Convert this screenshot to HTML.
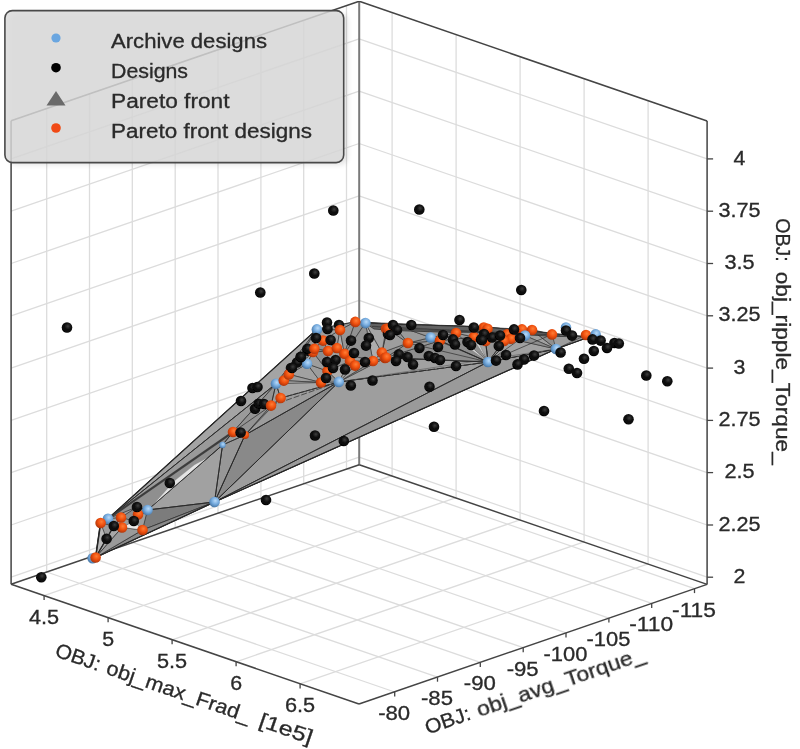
<!DOCTYPE html>
<html><head><meta charset="utf-8"><title>Pareto front</title>
<style>
html,body{margin:0;padding:0;background:#fff;}
body{width:800px;height:749px;overflow:hidden;font-family:"Liberation Sans",sans-serif;}
svg{display:block;}
text{font-family:"Liberation Sans",sans-serif;}
</style></head><body>
<svg width="800" height="749" viewBox="0 0 800 749">
<defs>
<radialGradient id="gk" cx="0.58" cy="0.38" r="0.7"><stop offset="0" stop-color="#3e3e3e"/><stop offset="0.4" stop-color="#121212"/><stop offset="1" stop-color="#000"/></radialGradient>
<radialGradient id="go" cx="0.58" cy="0.38" r="0.72"><stop offset="0" stop-color="#ff7d36"/><stop offset="0.45" stop-color="#ef500f"/><stop offset="1" stop-color="#9a2c03"/></radialGradient>
<radialGradient id="gb" cx="0.58" cy="0.38" r="0.72"><stop offset="0" stop-color="#b9daf8"/><stop offset="0.45" stop-color="#77acdf"/><stop offset="1" stop-color="#3a6794"/></radialGradient>
<filter id="blur" x="-10%" y="-10%" width="120%" height="120%"><feGaussianBlur stdDeviation="2.5"/></filter>
<filter id="soft" x="0" y="0" width="100%" height="100%"><feGaussianBlur stdDeviation="0.7"/></filter>
</defs>
<rect width="800" height="749" fill="#fff"/>
<g filter="url(#soft)">
<g id="grid">
<line x1="44.1" y1="595.6" x2="392.1" y2="475.6" stroke="#dcdcdc" stroke-width="1.3" />
<line x1="108.1" y1="617.7" x2="456.1" y2="497.7" stroke="#dcdcdc" stroke-width="1.3" />
<line x1="172.1" y1="639.8" x2="520.1" y2="519.8" stroke="#dcdcdc" stroke-width="1.3" />
<line x1="236.1" y1="661.8" x2="584.1" y2="541.8" stroke="#dcdcdc" stroke-width="1.3" />
<line x1="300.1" y1="683.9" x2="648.1" y2="563.9" stroke="#dcdcdc" stroke-width="1.3" />
<line x1="46.7" y1="572.0" x2="394.7" y2="692.0" stroke="#dcdcdc" stroke-width="1.3" />
<line x1="89.5" y1="557.2" x2="437.5" y2="677.2" stroke="#dcdcdc" stroke-width="1.3" />
<line x1="132.3" y1="542.4" x2="480.3" y2="662.4" stroke="#dcdcdc" stroke-width="1.3" />
<line x1="175.2" y1="527.7" x2="523.2" y2="647.7" stroke="#dcdcdc" stroke-width="1.3" />
<line x1="218.0" y1="512.9" x2="566.0" y2="632.9" stroke="#dcdcdc" stroke-width="1.3" />
<line x1="260.9" y1="498.1" x2="608.9" y2="618.1" stroke="#dcdcdc" stroke-width="1.3" />
<line x1="303.7" y1="483.4" x2="651.7" y2="603.4" stroke="#dcdcdc" stroke-width="1.3" />
<line x1="346.5" y1="468.6" x2="694.5" y2="588.6" stroke="#dcdcdc" stroke-width="1.3" />
<line x1="46.7" y1="572.0" x2="46.7" y2="108.6" stroke="#dcdcdc" stroke-width="1.3" />
<line x1="89.5" y1="557.2" x2="89.5" y2="93.8" stroke="#dcdcdc" stroke-width="1.3" />
<line x1="132.3" y1="542.4" x2="132.3" y2="79.0" stroke="#dcdcdc" stroke-width="1.3" />
<line x1="175.2" y1="527.7" x2="175.2" y2="64.3" stroke="#dcdcdc" stroke-width="1.3" />
<line x1="218.0" y1="512.9" x2="218.0" y2="49.5" stroke="#dcdcdc" stroke-width="1.3" />
<line x1="260.9" y1="498.1" x2="260.9" y2="34.7" stroke="#dcdcdc" stroke-width="1.3" />
<line x1="303.7" y1="483.4" x2="303.7" y2="20.0" stroke="#dcdcdc" stroke-width="1.3" />
<line x1="346.5" y1="468.6" x2="346.5" y2="5.2" stroke="#dcdcdc" stroke-width="1.3" />
<line x1="11.1" y1="577.2" x2="359.1" y2="457.2" stroke="#dcdcdc" stroke-width="1.3" />
<line x1="11.1" y1="525.0" x2="359.1" y2="404.9" stroke="#dcdcdc" stroke-width="1.3" />
<line x1="11.1" y1="472.6" x2="359.1" y2="352.6" stroke="#dcdcdc" stroke-width="1.3" />
<line x1="11.1" y1="420.4" x2="359.1" y2="300.4" stroke="#dcdcdc" stroke-width="1.3" />
<line x1="11.1" y1="368.1" x2="359.1" y2="248.1" stroke="#dcdcdc" stroke-width="1.3" />
<line x1="11.1" y1="315.8" x2="359.1" y2="195.8" stroke="#dcdcdc" stroke-width="1.3" />
<line x1="11.1" y1="263.5" x2="359.1" y2="143.5" stroke="#dcdcdc" stroke-width="1.3" />
<line x1="11.1" y1="211.2" x2="359.1" y2="91.2" stroke="#dcdcdc" stroke-width="1.3" />
<line x1="11.1" y1="158.9" x2="359.1" y2="38.9" stroke="#dcdcdc" stroke-width="1.3" />
<line x1="392.1" y1="475.6" x2="392.1" y2="12.2" stroke="#dcdcdc" stroke-width="1.3" />
<line x1="456.1" y1="497.7" x2="456.1" y2="34.3" stroke="#dcdcdc" stroke-width="1.3" />
<line x1="520.1" y1="519.8" x2="520.1" y2="56.4" stroke="#dcdcdc" stroke-width="1.3" />
<line x1="584.1" y1="541.8" x2="584.1" y2="78.4" stroke="#dcdcdc" stroke-width="1.3" />
<line x1="648.1" y1="563.9" x2="648.1" y2="100.5" stroke="#dcdcdc" stroke-width="1.3" />
<line x1="359.1" y1="457.2" x2="707.1" y2="577.2" stroke="#dcdcdc" stroke-width="1.3" />
<line x1="359.1" y1="404.9" x2="707.1" y2="525.0" stroke="#dcdcdc" stroke-width="1.3" />
<line x1="359.1" y1="352.6" x2="707.1" y2="472.6" stroke="#dcdcdc" stroke-width="1.3" />
<line x1="359.1" y1="300.4" x2="707.1" y2="420.4" stroke="#dcdcdc" stroke-width="1.3" />
<line x1="359.1" y1="248.1" x2="707.1" y2="368.1" stroke="#dcdcdc" stroke-width="1.3" />
<line x1="359.1" y1="195.8" x2="707.1" y2="315.8" stroke="#dcdcdc" stroke-width="1.3" />
<line x1="359.1" y1="143.5" x2="707.1" y2="263.5" stroke="#dcdcdc" stroke-width="1.3" />
<line x1="359.1" y1="91.2" x2="707.1" y2="211.2" stroke="#dcdcdc" stroke-width="1.3" />
<line x1="359.1" y1="38.9" x2="707.1" y2="158.9" stroke="#dcdcdc" stroke-width="1.3" />
<line x1="359.2" y1="464.7" x2="359.2" y2="1.3" stroke="#7a7a7a" stroke-width="2" />
<line x1="11.1" y1="584.2" x2="11.1" y2="120.8" stroke="#444" stroke-width="1.5" />
<line x1="11.1" y1="120.8" x2="359.2" y2="1.3" stroke="#444" stroke-width="1.5" />
<line x1="359.2" y1="1.3" x2="707.1" y2="121.0" stroke="#444" stroke-width="1.5" />
<line x1="707.1" y1="121.0" x2="707.1" y2="584.4" stroke="#444" stroke-width="1.5" />
<line x1="11.1" y1="584.2" x2="359.0" y2="704.0" stroke="#444" stroke-width="1.5" />
<line x1="359.0" y1="704.0" x2="707.1" y2="584.4" stroke="#444" stroke-width="1.5" />
<line x1="11.1" y1="584.2" x2="359.2" y2="464.7" stroke="#444" stroke-width="1.5" />
<line x1="359.2" y1="464.7" x2="707.1" y2="584.4" stroke="#444" stroke-width="1.5" />
<line x1="44.1" y1="595.6" x2="44.1" y2="600.1" stroke="#444" stroke-width="1.3" />
<line x1="108.1" y1="617.7" x2="108.1" y2="622.2" stroke="#444" stroke-width="1.3" />
<line x1="172.1" y1="639.8" x2="172.1" y2="644.3" stroke="#444" stroke-width="1.3" />
<line x1="236.1" y1="661.8" x2="236.1" y2="666.3" stroke="#444" stroke-width="1.3" />
<line x1="300.1" y1="683.9" x2="300.1" y2="688.4" stroke="#444" stroke-width="1.3" />
<line x1="394.7" y1="692.0" x2="394.7" y2="696.5" stroke="#444" stroke-width="1.3" />
<line x1="437.5" y1="677.2" x2="437.5" y2="681.7" stroke="#444" stroke-width="1.3" />
<line x1="480.3" y1="662.4" x2="480.3" y2="666.9" stroke="#444" stroke-width="1.3" />
<line x1="523.2" y1="647.7" x2="523.2" y2="652.2" stroke="#444" stroke-width="1.3" />
<line x1="566.0" y1="632.9" x2="566.0" y2="637.4" stroke="#444" stroke-width="1.3" />
<line x1="608.9" y1="618.1" x2="608.9" y2="622.6" stroke="#444" stroke-width="1.3" />
<line x1="651.7" y1="603.4" x2="651.7" y2="607.9" stroke="#444" stroke-width="1.3" />
<line x1="694.5" y1="588.6" x2="694.5" y2="593.1" stroke="#444" stroke-width="1.3" />
<line x1="707.1" y1="577.2" x2="713.1" y2="577.2" stroke="#444" stroke-width="1.3" />
<line x1="707.1" y1="525.0" x2="713.1" y2="525.0" stroke="#444" stroke-width="1.3" />
<line x1="707.1" y1="472.6" x2="713.1" y2="472.6" stroke="#444" stroke-width="1.3" />
<line x1="707.1" y1="420.4" x2="713.1" y2="420.4" stroke="#444" stroke-width="1.3" />
<line x1="707.1" y1="368.1" x2="713.1" y2="368.1" stroke="#444" stroke-width="1.3" />
<line x1="707.1" y1="315.8" x2="713.1" y2="315.8" stroke="#444" stroke-width="1.3" />
<line x1="707.1" y1="263.5" x2="713.1" y2="263.5" stroke="#444" stroke-width="1.3" />
<line x1="707.1" y1="211.2" x2="713.1" y2="211.2" stroke="#444" stroke-width="1.3" />
<line x1="707.1" y1="158.9" x2="713.1" y2="158.9" stroke="#444" stroke-width="1.3" />
</g>
<g id="surface">
<polygon points="95.6,557.5 100.6,523.0 108.0,518.8 316.9,329.4 355.3,321.9 365.4,323.1 393.0,324.2 485.0,327.0 552.0,333.5 589.0,337.0 556.0,349.0 214.5,502.0" fill="#9d9d9d" stroke="#262626" stroke-width="1.2" stroke-opacity="1" stroke-linejoin="round" opacity="1"/>
<polygon points="214.5,502.0 338.8,381.9 488.0,362.0" fill="#9e9e9e" stroke="#262626" stroke-width="0.8" stroke-opacity="0.85" stroke-linejoin="round" opacity="1"/>
<polygon points="214.5,502.0 488.0,362.0 556.0,349.0" fill="#9a9a9a" stroke="#262626" stroke-width="0.8" stroke-opacity="0.85" stroke-linejoin="round" opacity="1"/>
<polygon points="338.8,381.9 488.0,362.0 556.0,349.0" fill="#9c9c9c" stroke="#262626" stroke-width="0.8" stroke-opacity="0.85" stroke-linejoin="round" opacity="1"/>
<polygon points="214.5,502.0 245.0,435.0 338.8,381.9" fill="#898989" stroke="#262626" stroke-width="0.8" stroke-opacity="0.85" stroke-linejoin="round" opacity="1"/>
<polygon points="214.5,502.0 222.5,445.0 245.0,435.0" fill="#979797" stroke="#262626" stroke-width="0.8" stroke-opacity="0.85" stroke-linejoin="round" opacity="1"/>
<polygon points="147.5,510.0 222.5,445.0 214.5,502.0" fill="#a1a1a1" stroke="#262626" stroke-width="0.8" stroke-opacity="0.85" stroke-linejoin="round" opacity="1"/>
<polygon points="147.5,510.0 214.5,502.0 142.5,530.0" fill="#7c7c7c" stroke="#262626" stroke-width="0.8" stroke-opacity="0.85" stroke-linejoin="round" opacity="1"/>
<polygon points="95.6,557.5 142.5,530.0 214.5,502.0" fill="#8a8a8a" stroke="#262626" stroke-width="0.8" stroke-opacity="0.85" stroke-linejoin="round" opacity="1"/>
<polygon points="108.0,518.8 316.9,329.4 276.0,383.8" fill="#a4a4a4" stroke="#262626" stroke-width="0.8" stroke-opacity="0.85" stroke-linejoin="round" opacity="1"/>
<polygon points="108.0,518.8 276.0,383.8 233.0,432.0" fill="#9a9a9a" stroke="#262626" stroke-width="0.8" stroke-opacity="0.85" stroke-linejoin="round" opacity="1"/>
<polygon points="108.0,518.8 233.0,432.0 222.5,445.0 147.5,510.0 137.0,507.0" fill="#8f8f8f" stroke="#262626" stroke-width="0.8" stroke-opacity="0.85" stroke-linejoin="round" opacity="1"/>
<polygon points="151.3,506.7 174.8,480.6 194.5,464.8 208.0,457.6" fill="#e4e4e4" stroke="#777" stroke-width="0.3" stroke-opacity="0.85" stroke-linejoin="round" opacity="1"/>
<polygon points="244.0,428.0 258.0,411.0 256.0,418.0" fill="#dcdcdc" stroke="#555" stroke-width="0.5" stroke-opacity="0.85" stroke-linejoin="round" opacity="1"/>
<polygon points="95.6,557.5 100.6,523.0 106.6,538.8" fill="#b9b9b9" stroke="#262626" stroke-width="0.8" stroke-opacity="0.85" stroke-linejoin="round" opacity="1"/>
<polygon points="95.6,557.5 106.6,538.8 113.8,526.0 122.0,527.5" fill="#a8a8a8" stroke="#262626" stroke-width="0.8" stroke-opacity="0.85" stroke-linejoin="round" opacity="1"/>
<polygon points="95.6,557.5 122.0,527.5 142.5,530.0" fill="#9a9a9a" stroke="#262626" stroke-width="0.8" stroke-opacity="0.85" stroke-linejoin="round" opacity="1"/>
<polygon points="122.0,527.5 133.8,521.0 142.5,530.0" fill="#e9e9e9" stroke="#444" stroke-width="0.6" stroke-opacity="0.85" stroke-linejoin="round" opacity="1"/>
<polygon points="100.6,523.0 108.0,518.8 121.0,517.5 113.8,526.0" fill="#a0a0a0" stroke="#262626" stroke-width="0.8" stroke-opacity="0.85" stroke-linejoin="round" opacity="1"/>
<polygon points="121.0,517.5 137.0,507.0 147.5,510.0 133.8,521.0" fill="#8c8c8c" stroke="#262626" stroke-width="0.8" stroke-opacity="0.85" stroke-linejoin="round" opacity="1"/>
<polygon points="245.0,435.0 271.0,405.6 280.6,398.0 338.8,381.9" fill="#9c9c9c" stroke="#262626" stroke-width="0.8" stroke-opacity="0.85" stroke-linejoin="round" opacity="1"/>
<polygon points="276.0,383.8 280.6,398.0 338.8,381.9 306.9,363.8" fill="#a6a6a6" stroke="#262626" stroke-width="0.8" stroke-opacity="0.85" stroke-linejoin="round" opacity="1"/>
<polygon points="233.0,432.0 276.0,383.8 271.0,405.6 245.0,435.0" fill="#939393" stroke="#262626" stroke-width="0.8" stroke-opacity="0.85" stroke-linejoin="round" opacity="1"/>
<line x1="233.0" y1="432.0" x2="271.0" y2="405.6" stroke="#262626" stroke-width="0.8" opacity="0.85"/>
<line x1="245.0" y1="435.0" x2="280.6" y2="398.0" stroke="#262626" stroke-width="0.8" opacity="0.85"/>
<line x1="276.0" y1="383.8" x2="280.6" y2="398.0" stroke="#262626" stroke-width="0.8" opacity="0.85"/>
<line x1="276.0" y1="383.8" x2="271.0" y2="405.6" stroke="#262626" stroke-width="0.8" opacity="0.85"/>
<line x1="276.0" y1="383.8" x2="283.8" y2="380.6" stroke="#262626" stroke-width="0.8" opacity="0.85"/>
<line x1="276.0" y1="383.8" x2="306.9" y2="363.8" stroke="#262626" stroke-width="0.8" opacity="0.85"/>
<line x1="280.6" y1="398.0" x2="338.8" y2="381.9" stroke="#262626" stroke-width="0.8" opacity="0.85" stroke-dasharray="5 1.5"/>
<line x1="271.0" y1="405.6" x2="338.8" y2="381.9" stroke="#262626" stroke-width="0.8" opacity="0.85" stroke-dasharray="6 2"/>
<line x1="283.8" y1="380.6" x2="338.8" y2="381.9" stroke="#262626" stroke-width="0.8" opacity="0.85"/>
<line x1="222.5" y1="445.0" x2="233.0" y2="432.0" stroke="#262626" stroke-width="0.8" opacity="0.85"/>
<line x1="222.5" y1="445.0" x2="245.0" y2="435.0" stroke="#262626" stroke-width="0.8" opacity="0.85"/>
<line x1="233.0" y1="432.0" x2="245.0" y2="435.0" stroke="#262626" stroke-width="0.8" opacity="0.85"/>
<polygon points="338.8,381.9 385.0,358.0 488.0,362.0" fill="#a1a1a1" stroke="#262626" stroke-width="0.7" stroke-opacity="0.8" stroke-linejoin="round" opacity="1"/>
<polygon points="385.0,358.0 386.0,357.5 488.0,362.0" fill="#8e8e8e" stroke="#262626" stroke-width="0.7" stroke-opacity="0.8" stroke-linejoin="round" opacity="1"/>
<polygon points="386.0,357.5 440.0,340.6 488.0,362.0" fill="#8e8e8e" stroke="#262626" stroke-width="0.7" stroke-opacity="0.8" stroke-linejoin="round" opacity="1"/>
<polygon points="316.9,329.4 288.8,374.4 276.0,383.8" fill="#9a9a9a" stroke="#262626" stroke-width="0.7" stroke-opacity="0.8" stroke-linejoin="round" opacity="1"/>
<polygon points="340.0,330.0 316.9,329.4 355.3,321.9" fill="#969696" stroke="#262626" stroke-width="0.7" stroke-opacity="0.8" stroke-linejoin="round" opacity="1"/>
<polygon points="385.0,358.0 381.9,352.5 386.0,357.5" fill="#969696" stroke="#262626" stroke-width="0.7" stroke-opacity="0.8" stroke-linejoin="round" opacity="1"/>
<polygon points="440.0,340.6 473.8,337.0 488.0,362.0" fill="#8e8e8e" stroke="#262626" stroke-width="0.7" stroke-opacity="0.8" stroke-linejoin="round" opacity="1"/>
<polygon points="407.9,343.0 440.0,340.6 386.0,357.5" fill="#969696" stroke="#262626" stroke-width="0.7" stroke-opacity="0.8" stroke-linejoin="round" opacity="1"/>
<polygon points="381.9,352.5 407.9,343.0 386.0,357.5" fill="#929292" stroke="#262626" stroke-width="0.7" stroke-opacity="0.8" stroke-linejoin="round" opacity="1"/>
<polygon points="407.9,343.0 381.9,352.5 387.5,328.8" fill="#9d9d9d" stroke="#262626" stroke-width="0.7" stroke-opacity="0.8" stroke-linejoin="round" opacity="1"/>
<polygon points="288.8,374.4 283.8,380.6 276.0,383.8" fill="#adadad" stroke="#262626" stroke-width="0.7" stroke-opacity="0.8" stroke-linejoin="round" opacity="1"/>
<polygon points="340.0,330.0 323.0,340.6 316.9,329.4" fill="#9d9d9d" stroke="#262626" stroke-width="0.7" stroke-opacity="0.8" stroke-linejoin="round" opacity="1"/>
<polygon points="323.0,340.6 340.0,330.0 336.9,348.0" fill="#9d9d9d" stroke="#262626" stroke-width="0.7" stroke-opacity="0.8" stroke-linejoin="round" opacity="1"/>
<polygon points="323.0,340.6 314.4,348.8 316.9,329.4" fill="#8e8e8e" stroke="#262626" stroke-width="0.7" stroke-opacity="0.8" stroke-linejoin="round" opacity="1"/>
<polygon points="321.0,382.5 288.8,374.4 307.0,363.8" fill="#a1a1a1" stroke="#262626" stroke-width="0.7" stroke-opacity="0.8" stroke-linejoin="round" opacity="1"/>
<polygon points="327.5,371.0 321.0,382.5 307.0,363.8" fill="#9d9d9d" stroke="#262626" stroke-width="0.7" stroke-opacity="0.8" stroke-linejoin="round" opacity="1"/>
<polygon points="321.0,382.5 283.8,380.6 288.8,374.4" fill="#9d9d9d" stroke="#262626" stroke-width="0.7" stroke-opacity="0.8" stroke-linejoin="round" opacity="1"/>
<polygon points="321.0,382.5 327.5,371.0 338.8,381.9" fill="#8e8e8e" stroke="#262626" stroke-width="0.7" stroke-opacity="0.8" stroke-linejoin="round" opacity="1"/>
<polygon points="283.8,380.6 321.0,382.5 276.0,383.8" fill="#9d9d9d" stroke="#262626" stroke-width="0.7" stroke-opacity="0.8" stroke-linejoin="round" opacity="1"/>
<polygon points="328.0,351.0 323.0,340.6 336.9,348.0" fill="#9d9d9d" stroke="#262626" stroke-width="0.7" stroke-opacity="0.8" stroke-linejoin="round" opacity="1"/>
<polygon points="323.0,340.6 328.0,351.0 314.4,348.8" fill="#8e8e8e" stroke="#262626" stroke-width="0.7" stroke-opacity="0.8" stroke-linejoin="round" opacity="1"/>
<polygon points="373.0,361.0 385.0,358.0 338.8,381.9" fill="#8e8e8e" stroke="#262626" stroke-width="0.7" stroke-opacity="0.8" stroke-linejoin="round" opacity="1"/>
<polygon points="355.0,365.6 373.0,361.0 338.8,381.9" fill="#a1a1a1" stroke="#262626" stroke-width="0.7" stroke-opacity="0.8" stroke-linejoin="round" opacity="1"/>
<polygon points="373.0,361.0 381.9,352.5 385.0,358.0" fill="#9a9a9a" stroke="#262626" stroke-width="0.7" stroke-opacity="0.8" stroke-linejoin="round" opacity="1"/>
<polygon points="381.9,352.5 373.0,361.0 365.4,323.1" fill="#adadad" stroke="#262626" stroke-width="0.7" stroke-opacity="0.8" stroke-linejoin="round" opacity="1"/>
<polygon points="327.5,371.0 350.0,361.0 338.8,381.9" fill="#adadad" stroke="#262626" stroke-width="0.7" stroke-opacity="0.8" stroke-linejoin="round" opacity="1"/>
<polygon points="350.0,361.0 355.0,365.6 338.8,381.9" fill="#a5a5a5" stroke="#262626" stroke-width="0.7" stroke-opacity="0.8" stroke-linejoin="round" opacity="1"/>
<polygon points="350.0,361.0 373.0,361.0 355.0,365.6" fill="#9a9a9a" stroke="#262626" stroke-width="0.7" stroke-opacity="0.8" stroke-linejoin="round" opacity="1"/>
<polygon points="381.9,352.5 386.0,328.8 387.5,328.8" fill="#8e8e8e" stroke="#262626" stroke-width="0.7" stroke-opacity="0.8" stroke-linejoin="round" opacity="1"/>
<polygon points="386.0,328.8 381.9,352.5 365.4,323.1" fill="#a5a5a5" stroke="#262626" stroke-width="0.7" stroke-opacity="0.8" stroke-linejoin="round" opacity="1"/>
<polygon points="456.0,333.0 473.8,337.0 440.0,340.6" fill="#969696" stroke="#262626" stroke-width="0.7" stroke-opacity="0.8" stroke-linejoin="round" opacity="1"/>
<polygon points="485.6,341.0 504.0,341.0 488.0,362.0" fill="#969696" stroke="#262626" stroke-width="0.7" stroke-opacity="0.8" stroke-linejoin="round" opacity="1"/>
<polygon points="473.8,337.0 485.6,341.0 488.0,362.0" fill="#a5a5a5" stroke="#262626" stroke-width="0.7" stroke-opacity="0.8" stroke-linejoin="round" opacity="1"/>
<polygon points="393.0,324.2 407.9,343.0 387.5,328.8" fill="#929292" stroke="#262626" stroke-width="0.7" stroke-opacity="0.8" stroke-linejoin="round" opacity="1"/>
<polygon points="456.0,333.0 393.0,324.2 485.0,327.0" fill="#9a9a9a" stroke="#262626" stroke-width="0.7" stroke-opacity="0.8" stroke-linejoin="round" opacity="1"/>
<polygon points="485.0,327.0 393.0,324.2 355.3,321.9" fill="#8e8e8e" stroke="#262626" stroke-width="0.7" stroke-opacity="0.8" stroke-linejoin="round" opacity="1"/>
<polygon points="393.0,324.2 365.4,323.1 355.3,321.9" fill="#a5a5a5" stroke="#262626" stroke-width="0.7" stroke-opacity="0.8" stroke-linejoin="round" opacity="1"/>
<polygon points="386.0,328.8 393.0,324.2 387.5,328.8" fill="#a1a1a1" stroke="#262626" stroke-width="0.7" stroke-opacity="0.8" stroke-linejoin="round" opacity="1"/>
<polygon points="393.0,324.2 386.0,328.8 365.4,323.1" fill="#9a9a9a" stroke="#262626" stroke-width="0.7" stroke-opacity="0.8" stroke-linejoin="round" opacity="1"/>
<polygon points="328.0,351.0 313.0,352.0 314.4,348.8" fill="#8e8e8e" stroke="#262626" stroke-width="0.7" stroke-opacity="0.8" stroke-linejoin="round" opacity="1"/>
<polygon points="288.8,374.4 313.0,352.0 307.0,363.8" fill="#adadad" stroke="#262626" stroke-width="0.7" stroke-opacity="0.8" stroke-linejoin="round" opacity="1"/>
<polygon points="313.0,352.0 327.5,371.0 307.0,363.8" fill="#9d9d9d" stroke="#262626" stroke-width="0.7" stroke-opacity="0.8" stroke-linejoin="round" opacity="1"/>
<polygon points="313.0,352.0 328.0,351.0 327.5,371.0" fill="#8e8e8e" stroke="#262626" stroke-width="0.7" stroke-opacity="0.8" stroke-linejoin="round" opacity="1"/>
<polygon points="313.0,352.0 288.8,374.4 316.9,329.4" fill="#9a9a9a" stroke="#262626" stroke-width="0.7" stroke-opacity="0.8" stroke-linejoin="round" opacity="1"/>
<polygon points="314.4,348.8 313.0,352.0 316.9,329.4" fill="#969696" stroke="#262626" stroke-width="0.7" stroke-opacity="0.8" stroke-linejoin="round" opacity="1"/>
<polygon points="556.0,349.0 525.0,335.6 532.0,330.0" fill="#a1a1a1" stroke="#262626" stroke-width="0.7" stroke-opacity="0.8" stroke-linejoin="round" opacity="1"/>
<polygon points="552.0,334.4 556.0,349.0 532.0,330.0" fill="#8e8e8e" stroke="#262626" stroke-width="0.7" stroke-opacity="0.8" stroke-linejoin="round" opacity="1"/>
<polygon points="552.0,333.5 552.0,334.4 532.0,330.0" fill="#929292" stroke="#262626" stroke-width="0.7" stroke-opacity="0.8" stroke-linejoin="round" opacity="1"/>
<polygon points="586.0,335.0 589.0,337.0 556.0,349.0" fill="#969696" stroke="#262626" stroke-width="0.7" stroke-opacity="0.8" stroke-linejoin="round" opacity="1"/>
<polygon points="344.4,353.8 350.0,361.0 327.5,371.0" fill="#9a9a9a" stroke="#262626" stroke-width="0.7" stroke-opacity="0.8" stroke-linejoin="round" opacity="1"/>
<polygon points="344.4,353.8 328.0,351.0 336.9,348.0" fill="#adadad" stroke="#262626" stroke-width="0.7" stroke-opacity="0.8" stroke-linejoin="round" opacity="1"/>
<polygon points="328.0,351.0 344.4,353.8 327.5,371.0" fill="#a1a1a1" stroke="#262626" stroke-width="0.7" stroke-opacity="0.8" stroke-linejoin="round" opacity="1"/>
<polygon points="340.0,330.0 344.4,353.8 336.9,348.0" fill="#adadad" stroke="#262626" stroke-width="0.7" stroke-opacity="0.8" stroke-linejoin="round" opacity="1"/>
<polygon points="344.4,353.8 340.0,330.0 355.3,321.9" fill="#969696" stroke="#262626" stroke-width="0.7" stroke-opacity="0.8" stroke-linejoin="round" opacity="1"/>
<polygon points="365.4,323.1 344.4,353.8 355.3,321.9" fill="#929292" stroke="#262626" stroke-width="0.7" stroke-opacity="0.8" stroke-linejoin="round" opacity="1"/>
<polygon points="373.0,361.0 344.4,353.8 365.4,323.1" fill="#929292" stroke="#262626" stroke-width="0.7" stroke-opacity="0.8" stroke-linejoin="round" opacity="1"/>
<polygon points="350.0,361.0 344.4,353.8 373.0,361.0" fill="#9d9d9d" stroke="#262626" stroke-width="0.7" stroke-opacity="0.8" stroke-linejoin="round" opacity="1"/>
<polygon points="483.8,327.5 456.0,333.0 485.0,327.0" fill="#969696" stroke="#262626" stroke-width="0.7" stroke-opacity="0.8" stroke-linejoin="round" opacity="1"/>
<polygon points="456.0,333.0 483.8,327.5 473.8,337.0" fill="#9d9d9d" stroke="#262626" stroke-width="0.7" stroke-opacity="0.8" stroke-linejoin="round" opacity="1"/>
<polygon points="483.8,327.5 485.6,341.0 473.8,337.0" fill="#9d9d9d" stroke="#262626" stroke-width="0.7" stroke-opacity="0.8" stroke-linejoin="round" opacity="1"/>
<polygon points="407.9,343.0 430.6,337.5 440.0,340.6" fill="#8e8e8e" stroke="#262626" stroke-width="0.7" stroke-opacity="0.8" stroke-linejoin="round" opacity="1"/>
<polygon points="393.0,324.2 430.6,337.5 407.9,343.0" fill="#9a9a9a" stroke="#262626" stroke-width="0.7" stroke-opacity="0.8" stroke-linejoin="round" opacity="1"/>
<polygon points="430.6,337.5 456.0,333.0 440.0,340.6" fill="#929292" stroke="#262626" stroke-width="0.7" stroke-opacity="0.8" stroke-linejoin="round" opacity="1"/>
<polygon points="430.6,337.5 393.0,324.2 456.0,333.0" fill="#969696" stroke="#262626" stroke-width="0.7" stroke-opacity="0.8" stroke-linejoin="round" opacity="1"/>
<polygon points="487.5,328.8 507.0,334.4 504.0,341.0" fill="#969696" stroke="#262626" stroke-width="0.7" stroke-opacity="0.8" stroke-linejoin="round" opacity="1"/>
<polygon points="485.6,341.0 487.5,328.8 504.0,341.0" fill="#8e8e8e" stroke="#262626" stroke-width="0.7" stroke-opacity="0.8" stroke-linejoin="round" opacity="1"/>
<polygon points="522.0,329.4 487.5,328.8 485.0,327.0" fill="#a5a5a5" stroke="#262626" stroke-width="0.7" stroke-opacity="0.8" stroke-linejoin="round" opacity="1"/>
<polygon points="507.0,334.4 487.5,328.8 522.0,329.4" fill="#a1a1a1" stroke="#262626" stroke-width="0.7" stroke-opacity="0.8" stroke-linejoin="round" opacity="1"/>
<polygon points="487.5,328.8 483.8,327.5 485.0,327.0" fill="#a5a5a5" stroke="#262626" stroke-width="0.7" stroke-opacity="0.8" stroke-linejoin="round" opacity="1"/>
<polygon points="483.8,327.5 487.5,328.8 485.6,341.0" fill="#8e8e8e" stroke="#262626" stroke-width="0.7" stroke-opacity="0.8" stroke-linejoin="round" opacity="1"/>
<polygon points="511.0,338.8 507.0,334.4 522.0,329.4" fill="#9d9d9d" stroke="#262626" stroke-width="0.7" stroke-opacity="0.8" stroke-linejoin="round" opacity="1"/>
<polygon points="525.0,335.6 511.0,338.8 522.0,329.4" fill="#9d9d9d" stroke="#262626" stroke-width="0.7" stroke-opacity="0.8" stroke-linejoin="round" opacity="1"/>
<polygon points="507.0,334.4 511.0,338.8 504.0,341.0" fill="#a5a5a5" stroke="#262626" stroke-width="0.7" stroke-opacity="0.8" stroke-linejoin="round" opacity="1"/>
<polygon points="504.0,341.0 511.0,338.8 488.0,362.0" fill="#a5a5a5" stroke="#262626" stroke-width="0.7" stroke-opacity="0.8" stroke-linejoin="round" opacity="1"/>
<polygon points="511.0,338.8 556.0,349.0 488.0,362.0" fill="#a1a1a1" stroke="#262626" stroke-width="0.7" stroke-opacity="0.8" stroke-linejoin="round" opacity="1"/>
<polygon points="511.0,338.8 525.0,335.6 556.0,349.0" fill="#8e8e8e" stroke="#262626" stroke-width="0.7" stroke-opacity="0.8" stroke-linejoin="round" opacity="1"/>
<line x1="488.0" y1="362.0" x2="386.0" y2="357.5" stroke="#262626" stroke-width="0.8" opacity="0.8"/>
<line x1="488.0" y1="362.0" x2="407.9" y2="343.0" stroke="#262626" stroke-width="0.8" opacity="0.8"/>
<line x1="488.0" y1="362.0" x2="430.6" y2="337.5" stroke="#262626" stroke-width="0.8" opacity="0.8"/>
<line x1="488.0" y1="362.0" x2="440.0" y2="340.6" stroke="#262626" stroke-width="0.8" opacity="0.8"/>
<line x1="488.0" y1="362.0" x2="456.0" y2="333.0" stroke="#262626" stroke-width="0.8" opacity="0.8"/>
<line x1="488.0" y1="362.0" x2="473.8" y2="337.0" stroke="#262626" stroke-width="0.8" opacity="0.8"/>
<line x1="488.0" y1="362.0" x2="485.6" y2="341.0" stroke="#262626" stroke-width="0.8" opacity="0.8"/>
<line x1="488.0" y1="362.0" x2="504.0" y2="341.0" stroke="#262626" stroke-width="0.8" opacity="0.8"/>
<line x1="488.0" y1="362.0" x2="511.0" y2="338.8" stroke="#262626" stroke-width="0.8" opacity="0.8"/>
<line x1="488.0" y1="362.0" x2="525.0" y2="335.6" stroke="#262626" stroke-width="0.8" opacity="0.8"/>
<line x1="488.0" y1="362.0" x2="552.0" y2="334.4" stroke="#262626" stroke-width="0.8" opacity="0.8"/>
<line x1="488.0" y1="362.0" x2="483.8" y2="327.5" stroke="#262626" stroke-width="0.8" opacity="0.8"/>
<polygon points="488.0,362.0 462.0,343.0 466.0,342.0" fill="#d4d4d4" stroke="#666" stroke-width="0.4" stroke-opacity="0.85" stroke-linejoin="round" opacity="1"/>
<polygon points="488.0,362.0 474.0,340.0 477.0,339.5" fill="#cfcfcf" stroke="#666" stroke-width="0.4" stroke-opacity="0.85" stroke-linejoin="round" opacity="1"/>
<polygon points="488.0,362.0 505.0,352.0 509.0,350.0" fill="#c4c4c4" stroke="#666" stroke-width="0.4" stroke-opacity="0.85" stroke-linejoin="round" opacity="1"/>
<line x1="338.8" y1="381.9" x2="488.0" y2="362.0" stroke="#262626" stroke-width="0.9" opacity="0.85" stroke-dasharray="7 2"/>
<line x1="488.0" y1="362.0" x2="556.0" y2="349.0" stroke="#262626" stroke-width="0.9" opacity="0.85" stroke-dasharray="6 2"/>
<line x1="214.5" y1="502.0" x2="488.0" y2="362.0" stroke="#262626" stroke-width="0.9" opacity="0.9"/>
<line x1="338.8" y1="381.9" x2="556.0" y2="349.0" stroke="#262626" stroke-width="0.7" opacity="0.5"/>
<line x1="214.5" y1="502.0" x2="338.8" y2="381.9" stroke="#262626" stroke-width="0.9" opacity="0.9"/>
<line x1="245.0" y1="435.0" x2="338.8" y2="381.9" stroke="#262626" stroke-width="0.9" opacity="0.9"/>
<polygon points="365.4,323.1 393.0,324.2 485.0,327.0 552.0,333.5 589.0,337.0 552.0,336.3 487.0,332.5 440.0,332.0 393.0,330.5 374.0,329.0" fill="#5e5e5e" stroke="#222" stroke-width="0.9" stroke-opacity="0.85" stroke-linejoin="round" opacity="0.92"/>
<line x1="372.0" y1="326.5" x2="560.0" y2="335.2" stroke="#2a2a2a" stroke-width="0.8" opacity="0.8"/>
<line x1="380.0" y1="328.5" x2="520.0" y2="333.5" stroke="#333" stroke-width="0.8" opacity="0.7"/>
<line x1="108.0" y1="518.8" x2="316.9" y2="329.4" stroke="#262626" stroke-width="1.2" opacity="1"/>
<line x1="108.0" y1="518.8" x2="276.0" y2="383.8" stroke="#262626" stroke-width="0.9" opacity="0.9"/>
<line x1="108.0" y1="518.8" x2="233.0" y2="432.0" stroke="#3a3a3a" stroke-width="2.2" opacity="0.9"/>
<line x1="147.5" y1="510.0" x2="222.5" y2="445.0" stroke="#262626" stroke-width="0.9" opacity="0.9"/>
<line x1="147.5" y1="510.0" x2="214.5" y2="502.0" stroke="#262626" stroke-width="0.9" opacity="0.9"/>
<line x1="95.6" y1="557.5" x2="100.6" y2="523.0" stroke="#262626" stroke-width="1.6" opacity="1"/>
<line x1="95.6" y1="557.5" x2="113.8" y2="526.0" stroke="#262626" stroke-width="1.4" opacity="1"/>
<line x1="95.6" y1="557.5" x2="214.5" y2="502.0" stroke="#262626" stroke-width="1.2" opacity="1"/>
<line x1="214.5" y1="502.0" x2="556.0" y2="349.0" stroke="#262626" stroke-width="1.2" opacity="1"/>
<line x1="556.0" y1="349.0" x2="589.0" y2="337.0" stroke="#262626" stroke-width="1.2" opacity="1"/>
<line x1="214.5" y1="502.0" x2="222.5" y2="445.0" stroke="#262626" stroke-width="0.9" opacity="0.9"/>
<line x1="214.5" y1="502.0" x2="245.0" y2="435.0" stroke="#262626" stroke-width="1.0" opacity="0.9"/>
</g>
<g id="points">
<circle cx="67.0" cy="327.5" r="5.3" fill="url(#gk)"/>
<circle cx="333.3" cy="210.5" r="5.3" fill="url(#gk)"/>
<circle cx="314.3" cy="273.5" r="5.3" fill="url(#gk)"/>
<circle cx="260.3" cy="292.5" r="5.3" fill="url(#gk)"/>
<circle cx="419.3" cy="209.5" r="5.3" fill="url(#gk)"/>
<circle cx="521.3" cy="290.0" r="5.3" fill="url(#gk)"/>
<circle cx="459.5" cy="320.0" r="5.3" fill="url(#gk)"/>
<circle cx="41.3" cy="577.2" r="5.3" fill="url(#gk)"/>
<circle cx="266.0" cy="500.0" r="5.3" fill="url(#gk)"/>
<circle cx="343.8" cy="441.0" r="5.3" fill="url(#gk)"/>
<circle cx="315.0" cy="435.5" r="5.3" fill="url(#gk)"/>
<circle cx="434.0" cy="426.8" r="5.3" fill="url(#gk)"/>
<circle cx="429.5" cy="386.8" r="5.3" fill="url(#gk)"/>
<circle cx="544.0" cy="411.0" r="5.3" fill="url(#gk)"/>
<circle cx="628.5" cy="419.3" r="5.3" fill="url(#gk)"/>
<circle cx="646.3" cy="375.5" r="5.3" fill="url(#gk)"/>
<circle cx="667.3" cy="381.3" r="5.3" fill="url(#gk)"/>
<circle cx="350.8" cy="385.5" r="5.3" fill="url(#gk)"/>
<circle cx="372.5" cy="380.5" r="5.3" fill="url(#gk)"/>
<circle cx="169.8" cy="483.0" r="5.3" fill="url(#gk)"/>
<circle cx="92.6" cy="558.2" r="5.3" fill="url(#gb)"/>
<circle cx="108.0" cy="518.8" r="5.3" fill="url(#gb)"/>
<circle cx="147.5" cy="510.0" r="5.3" fill="url(#gb)"/>
<circle cx="100.6" cy="523.0" r="5.3" fill="url(#go)"/>
<circle cx="121.0" cy="517.5" r="5.3" fill="url(#go)"/>
<circle cx="138.0" cy="514.4" r="5.3" fill="url(#go)"/>
<circle cx="142.5" cy="530.0" r="5.3" fill="url(#go)"/>
<circle cx="137.0" cy="507.0" r="5.3" fill="url(#gk)"/>
<circle cx="133.8" cy="521.0" r="5.3" fill="url(#gk)"/>
<circle cx="106.6" cy="538.8" r="5.3" fill="url(#gk)"/>
<circle cx="122.0" cy="527.5" r="5.3" fill="url(#go)"/>
<circle cx="95.6" cy="557.5" r="5.3" fill="url(#go)"/>
<circle cx="113.8" cy="526.0" r="5.3" fill="url(#gk)"/>
<circle cx="222.5" cy="445.0" r="3.2" fill="url(#gb)"/>
<circle cx="214.5" cy="502.0" r="5.3" fill="url(#gb)"/>
<circle cx="276.0" cy="383.8" r="5.3" fill="url(#gb)"/>
<circle cx="307.0" cy="363.8" r="5.3" fill="url(#gb)"/>
<circle cx="252.5" cy="388.0" r="5.3" fill="url(#gk)"/>
<circle cx="257.5" cy="387.0" r="5.3" fill="url(#gk)"/>
<circle cx="241.0" cy="401.0" r="5.3" fill="url(#gk)"/>
<circle cx="255.0" cy="408.8" r="5.3" fill="url(#gk)"/>
<circle cx="258.8" cy="403.8" r="5.3" fill="url(#gk)"/>
<circle cx="264.0" cy="404.0" r="5.3" fill="url(#gk)"/>
<circle cx="291.0" cy="368.0" r="5.3" fill="url(#gk)"/>
<circle cx="297.0" cy="362.5" r="5.3" fill="url(#gk)"/>
<circle cx="301.0" cy="357.0" r="5.3" fill="url(#gk)"/>
<circle cx="307.5" cy="350.6" r="5.3" fill="url(#gk)"/>
<circle cx="271.0" cy="405.6" r="5.3" fill="url(#go)"/>
<circle cx="280.6" cy="398.0" r="5.3" fill="url(#go)"/>
<circle cx="283.8" cy="380.6" r="5.3" fill="url(#go)"/>
<circle cx="288.8" cy="374.4" r="5.3" fill="url(#go)"/>
<circle cx="313.0" cy="352.0" r="5.3" fill="url(#go)"/>
<circle cx="233.0" cy="432.0" r="5.3" fill="url(#go)"/>
<circle cx="245.0" cy="435.0" r="4" fill="url(#go)"/>
<circle cx="240.6" cy="432.5" r="5.3" fill="url(#gk)"/>
<circle cx="316.9" cy="329.4" r="5.3" fill="url(#gb)"/>
<circle cx="365.4" cy="323.1" r="5.3" fill="url(#gb)"/>
<circle cx="338.8" cy="381.9" r="5.3" fill="url(#gb)"/>
<circle cx="355.3" cy="321.9" r="5.3" fill="url(#go)"/>
<circle cx="323.0" cy="340.6" r="5.3" fill="url(#go)"/>
<circle cx="328.0" cy="351.0" r="5.3" fill="url(#go)"/>
<circle cx="336.9" cy="348.0" r="5.3" fill="url(#go)"/>
<circle cx="344.4" cy="353.8" r="5.3" fill="url(#go)"/>
<circle cx="350.0" cy="361.0" r="5.3" fill="url(#go)"/>
<circle cx="355.0" cy="365.6" r="5.3" fill="url(#go)"/>
<circle cx="373.0" cy="361.0" r="5.3" fill="url(#go)"/>
<circle cx="381.9" cy="352.5" r="5.3" fill="url(#go)"/>
<circle cx="385.0" cy="358.0" r="5.3" fill="url(#go)"/>
<circle cx="386.0" cy="328.8" r="5.3" fill="url(#go)"/>
<circle cx="327.5" cy="371.0" r="5.3" fill="url(#go)"/>
<circle cx="321.0" cy="382.5" r="5.3" fill="url(#go)"/>
<circle cx="327.0" cy="322.5" r="5.3" fill="url(#gk)"/>
<circle cx="339.0" cy="325.0" r="5.3" fill="url(#gk)"/>
<circle cx="327.5" cy="329.0" r="5.3" fill="url(#gk)"/>
<circle cx="316.0" cy="338.0" r="5.3" fill="url(#gk)"/>
<circle cx="330.6" cy="340.0" r="5.3" fill="url(#gk)"/>
<circle cx="307.5" cy="348.8" r="5.3" fill="url(#gk)"/>
<circle cx="351.0" cy="340.6" r="5.3" fill="url(#gk)"/>
<circle cx="368.8" cy="338.0" r="5.3" fill="url(#gk)"/>
<circle cx="366.0" cy="345.6" r="5.3" fill="url(#gk)"/>
<circle cx="354.0" cy="353.0" r="5.3" fill="url(#gk)"/>
<circle cx="300.6" cy="356.9" r="5.3" fill="url(#gk)"/>
<circle cx="292.0" cy="368.0" r="5.3" fill="url(#gk)"/>
<circle cx="327.0" cy="362.0" r="5.3" fill="url(#gk)"/>
<circle cx="335.6" cy="360.0" r="5.3" fill="url(#gk)"/>
<circle cx="333.0" cy="368.0" r="5.3" fill="url(#gk)"/>
<circle cx="345.0" cy="369.4" r="5.3" fill="url(#gk)"/>
<circle cx="365.0" cy="362.0" r="5.3" fill="url(#gk)"/>
<circle cx="326.0" cy="378.0" r="5.3" fill="url(#gk)"/>
<circle cx="388.0" cy="334.0" r="5.3" fill="url(#gk)"/>
<circle cx="340.0" cy="330.0" r="5.3" fill="url(#go)"/>
<circle cx="314.4" cy="348.8" r="5.3" fill="url(#go)"/>
<circle cx="430.6" cy="337.5" r="5.3" fill="url(#gb)"/>
<circle cx="407.9" cy="343.0" r="5.3" fill="url(#go)"/>
<circle cx="440.0" cy="340.6" r="5.3" fill="url(#go)"/>
<circle cx="456.0" cy="333.0" r="5.3" fill="url(#go)"/>
<circle cx="473.8" cy="337.0" r="5.3" fill="url(#go)"/>
<circle cx="387.5" cy="328.8" r="5.3" fill="url(#go)"/>
<circle cx="386.0" cy="357.5" r="5.3" fill="url(#go)"/>
<circle cx="483.8" cy="327.5" r="5.3" fill="url(#go)"/>
<circle cx="411.3" cy="325.0" r="5.3" fill="url(#gk)"/>
<circle cx="393.0" cy="325.0" r="5.3" fill="url(#gk)"/>
<circle cx="397.0" cy="330.0" r="5.3" fill="url(#gk)"/>
<circle cx="390.0" cy="335.0" r="5.3" fill="url(#gk)"/>
<circle cx="473.8" cy="327.5" r="5.3" fill="url(#gk)"/>
<circle cx="443.0" cy="335.0" r="5.3" fill="url(#gk)"/>
<circle cx="453.0" cy="339.4" r="5.3" fill="url(#gk)"/>
<circle cx="455.0" cy="344.4" r="5.3" fill="url(#gk)"/>
<circle cx="467.5" cy="342.0" r="5.3" fill="url(#gk)"/>
<circle cx="471.0" cy="345.0" r="5.3" fill="url(#gk)"/>
<circle cx="481.0" cy="339.4" r="5.3" fill="url(#gk)"/>
<circle cx="438.0" cy="347.0" r="5.3" fill="url(#gk)"/>
<circle cx="419.4" cy="348.0" r="5.3" fill="url(#gk)"/>
<circle cx="398.8" cy="354.4" r="5.3" fill="url(#gk)"/>
<circle cx="407.5" cy="357.0" r="5.3" fill="url(#gk)"/>
<circle cx="413.0" cy="364.4" r="5.3" fill="url(#gk)"/>
<circle cx="396.0" cy="361.0" r="5.3" fill="url(#gk)"/>
<circle cx="428.8" cy="356.0" r="5.3" fill="url(#gk)"/>
<circle cx="435.0" cy="358.0" r="5.3" fill="url(#gk)"/>
<circle cx="440.0" cy="360.0" r="5.3" fill="url(#gk)"/>
<circle cx="456.0" cy="366.0" r="5.3" fill="url(#gk)"/>
<circle cx="556.0" cy="349.0" r="5.3" fill="url(#gb)"/>
<circle cx="488.0" cy="362.0" r="5.3" fill="url(#gb)"/>
<circle cx="566.0" cy="327.5" r="5.3" fill="url(#gb)"/>
<circle cx="487.5" cy="328.8" r="5.3" fill="url(#go)"/>
<circle cx="522.0" cy="329.4" r="5.3" fill="url(#go)"/>
<circle cx="532.0" cy="330.0" r="5.3" fill="url(#go)"/>
<circle cx="552.0" cy="334.4" r="5.3" fill="url(#go)"/>
<circle cx="507.0" cy="334.4" r="5.3" fill="url(#go)"/>
<circle cx="511.0" cy="338.8" r="5.3" fill="url(#go)"/>
<circle cx="504.0" cy="341.0" r="5.3" fill="url(#go)"/>
<circle cx="485.6" cy="341.0" r="5.3" fill="url(#go)"/>
<circle cx="525.0" cy="335.6" r="5.3" fill="url(#gb)"/>
<circle cx="514.0" cy="329.4" r="5.3" fill="url(#gk)"/>
<circle cx="566.0" cy="330.5" r="5.3" fill="url(#gk)"/>
<circle cx="572.0" cy="335.6" r="5.3" fill="url(#gk)"/>
<circle cx="484.0" cy="334.0" r="5.3" fill="url(#gk)"/>
<circle cx="492.0" cy="337.5" r="5.3" fill="url(#gk)"/>
<circle cx="500.0" cy="335.6" r="5.3" fill="url(#gk)"/>
<circle cx="482.0" cy="340.0" r="5.3" fill="url(#gk)"/>
<circle cx="520.0" cy="338.0" r="5.3" fill="url(#gk)"/>
<circle cx="498.8" cy="346.0" r="5.3" fill="url(#gk)"/>
<circle cx="506.0" cy="355.0" r="5.3" fill="url(#gk)"/>
<circle cx="496.0" cy="360.6" r="5.3" fill="url(#gk)"/>
<circle cx="534.0" cy="355.6" r="5.3" fill="url(#gk)"/>
<circle cx="524.0" cy="359.4" r="5.3" fill="url(#gk)"/>
<circle cx="517.5" cy="364.4" r="5.3" fill="url(#gk)"/>
<circle cx="560.6" cy="352.5" r="5.3" fill="url(#gk)"/>
<circle cx="568.8" cy="368.8" r="5.3" fill="url(#gk)"/>
<circle cx="577.0" cy="373.0" r="5.3" fill="url(#gk)"/>
<circle cx="586.0" cy="335.0" r="5.3" fill="url(#go)"/>
<circle cx="595.6" cy="334.4" r="5.3" fill="url(#gb)"/>
<circle cx="592.5" cy="339.4" r="5.3" fill="url(#gk)"/>
<circle cx="600.6" cy="340.6" r="5.3" fill="url(#gk)"/>
<circle cx="614.4" cy="343.0" r="5.3" fill="url(#gk)"/>
<circle cx="618.8" cy="343.5" r="5.3" fill="url(#gk)"/>
<circle cx="607.0" cy="348.0" r="5.3" fill="url(#gk)"/>
<circle cx="593.8" cy="351.0" r="5.3" fill="url(#gk)"/>
<circle cx="584.0" cy="358.8" r="5.3" fill="url(#gk)"/>
</g>
<g id="legend">
<rect x="9" y="13" width="339" height="152" rx="8" fill="#000" opacity="0.10" filter="url(#blur)"/>
<rect x="4.9" y="10.6" width="338.8" height="152" rx="7.5" fill="rgba(218,218,218,0.835)" stroke="#4a4a4a" stroke-width="1.6"/>
<circle cx="56" cy="38" r="4.6" fill="#6aa6e0"/>
<circle cx="56" cy="67.7" r="4.8" fill="#000"/>
<polygon points="56,91 65.5,105.6 46.5,105.6" fill="#6b6b6b"/>
<circle cx="56" cy="128" r="4.8" fill="#f04a12"/>
<text x="111.0" y="48.2" font-size="19.4" text-anchor="start" textLength="156" lengthAdjust="spacingAndGlyphs" fill="#2a2a2a" stroke="#2a2a2a" stroke-width="0.3" >Archive designs</text>
<text x="111.0" y="78.2" font-size="19.4" text-anchor="start" textLength="77" lengthAdjust="spacingAndGlyphs" fill="#2a2a2a" stroke="#2a2a2a" stroke-width="0.3" >Designs</text>
<text x="111.0" y="108.2" font-size="19.4" text-anchor="start" textLength="118.5" lengthAdjust="spacingAndGlyphs" fill="#2a2a2a" stroke="#2a2a2a" stroke-width="0.3" >Pareto front</text>
<text x="111.0" y="138.2" font-size="19.4" text-anchor="start" textLength="201" lengthAdjust="spacingAndGlyphs" fill="#2a2a2a" stroke="#2a2a2a" stroke-width="0.3" >Pareto front designs</text>
</g>
<g id="labels">
<text x="44.1" y="623.6" font-size="19.3" text-anchor="middle" textLength="30.2" lengthAdjust="spacingAndGlyphs" fill="#2a2a2a" stroke="#2a2a2a" stroke-width="0.3" >4.5</text>
<text x="108.1" y="645.7" font-size="19.3" text-anchor="middle" textLength="11.9" lengthAdjust="spacingAndGlyphs" fill="#2a2a2a" stroke="#2a2a2a" stroke-width="0.3" >5</text>
<text x="172.1" y="667.8" font-size="19.3" text-anchor="middle" textLength="30.2" lengthAdjust="spacingAndGlyphs" fill="#2a2a2a" stroke="#2a2a2a" stroke-width="0.3" >5.5</text>
<text x="236.1" y="689.8" font-size="19.3" text-anchor="middle" textLength="11.9" lengthAdjust="spacingAndGlyphs" fill="#2a2a2a" stroke="#2a2a2a" stroke-width="0.3" >6</text>
<text x="300.1" y="711.9" font-size="19.3" text-anchor="middle" textLength="30.2" lengthAdjust="spacingAndGlyphs" fill="#2a2a2a" stroke="#2a2a2a" stroke-width="0.3" >6.5</text>
<text x="394.2" y="720.0" font-size="19.3" text-anchor="middle" textLength="32.0" lengthAdjust="spacingAndGlyphs" fill="#2a2a2a" stroke="#2a2a2a" stroke-width="0.3" >-80</text>
<text x="437.0" y="705.2" font-size="19.3" text-anchor="middle" textLength="32.0" lengthAdjust="spacingAndGlyphs" fill="#2a2a2a" stroke="#2a2a2a" stroke-width="0.3" >-85</text>
<text x="479.8" y="690.4" font-size="19.3" text-anchor="middle" textLength="32.0" lengthAdjust="spacingAndGlyphs" fill="#2a2a2a" stroke="#2a2a2a" stroke-width="0.3" >-90</text>
<text x="522.7" y="675.7" font-size="19.3" text-anchor="middle" textLength="32.0" lengthAdjust="spacingAndGlyphs" fill="#2a2a2a" stroke="#2a2a2a" stroke-width="0.3" >-95</text>
<text x="565.5" y="660.9" font-size="19.3" text-anchor="middle" textLength="43.9" lengthAdjust="spacingAndGlyphs" fill="#2a2a2a" stroke="#2a2a2a" stroke-width="0.3" >-100</text>
<text x="608.4" y="646.1" font-size="19.3" text-anchor="middle" textLength="43.9" lengthAdjust="spacingAndGlyphs" fill="#2a2a2a" stroke="#2a2a2a" stroke-width="0.3" >-105</text>
<text x="651.2" y="631.4" font-size="19.3" text-anchor="middle" textLength="43.9" lengthAdjust="spacingAndGlyphs" fill="#2a2a2a" stroke="#2a2a2a" stroke-width="0.3" >-110</text>
<text x="694.0" y="616.6" font-size="19.3" text-anchor="middle" textLength="43.9" lengthAdjust="spacingAndGlyphs" fill="#2a2a2a" stroke="#2a2a2a" stroke-width="0.3" >-115</text>
<text x="739.5" y="582.9" font-size="19.3" text-anchor="middle" textLength="11.9" lengthAdjust="spacingAndGlyphs" fill="#2a2a2a" stroke="#2a2a2a" stroke-width="0.3" >2</text>
<text x="739.5" y="530.6" font-size="19.3" text-anchor="middle" textLength="42.1" lengthAdjust="spacingAndGlyphs" fill="#2a2a2a" stroke="#2a2a2a" stroke-width="0.3" >2.25</text>
<text x="739.5" y="478.2" font-size="19.3" text-anchor="middle" textLength="30.2" lengthAdjust="spacingAndGlyphs" fill="#2a2a2a" stroke="#2a2a2a" stroke-width="0.3" >2.5</text>
<text x="739.5" y="426.0" font-size="19.3" text-anchor="middle" textLength="42.1" lengthAdjust="spacingAndGlyphs" fill="#2a2a2a" stroke="#2a2a2a" stroke-width="0.3" >2.75</text>
<text x="739.5" y="373.7" font-size="19.3" text-anchor="middle" textLength="11.9" lengthAdjust="spacingAndGlyphs" fill="#2a2a2a" stroke="#2a2a2a" stroke-width="0.3" >3</text>
<text x="739.5" y="321.4" font-size="19.3" text-anchor="middle" textLength="42.1" lengthAdjust="spacingAndGlyphs" fill="#2a2a2a" stroke="#2a2a2a" stroke-width="0.3" >3.25</text>
<text x="739.5" y="269.1" font-size="19.3" text-anchor="middle" textLength="30.2" lengthAdjust="spacingAndGlyphs" fill="#2a2a2a" stroke="#2a2a2a" stroke-width="0.3" >3.5</text>
<text x="739.5" y="216.8" font-size="19.3" text-anchor="middle" textLength="42.1" lengthAdjust="spacingAndGlyphs" fill="#2a2a2a" stroke="#2a2a2a" stroke-width="0.3" >3.75</text>
<text x="739.5" y="164.5" font-size="19.3" text-anchor="middle" textLength="11.9" lengthAdjust="spacingAndGlyphs" fill="#2a2a2a" stroke="#2a2a2a" stroke-width="0.3" >4</text>
<text x="54.0" y="656.0" font-size="20.3" text-anchor="start" textLength="46.5" lengthAdjust="spacingAndGlyphs" transform="rotate(19.0 54.0 656.0)" fill="#2a2a2a" stroke="#2a2a2a" stroke-width="0.3" >OBJ:</text>
<text x="105.1" y="673.6" font-size="20.3" text-anchor="start" textLength="151.5" lengthAdjust="spacingAndGlyphs" transform="rotate(19.0 105.1 673.6)" fill="#2a2a2a" stroke="#2a2a2a" stroke-width="0.3" >obj_max_Frad_</text>
<text x="257.7" y="726.1" font-size="20.3" text-anchor="start" textLength="55.5" lengthAdjust="spacingAndGlyphs" transform="rotate(19.0 257.7 726.1)" fill="#2a2a2a" stroke="#2a2a2a" stroke-width="0.3" >[1e5]</text>
<text x="427.8" y="734.4" font-size="20.3" text-anchor="start" textLength="46.8" lengthAdjust="spacingAndGlyphs" transform="rotate(-19.0 427.8 734.4)" fill="#2a2a2a" stroke="#2a2a2a" stroke-width="0.3" >OBJ:</text>
<text x="479.2" y="716.7" font-size="20.3" text-anchor="start" textLength="176.7" lengthAdjust="spacingAndGlyphs" transform="rotate(-19.0 479.2 716.7)" fill="#2a2a2a" stroke="#2a2a2a" stroke-width="0.3" >obj_avg_Torque_</text>
<text x="776.2" y="218.3" font-size="20.6" text-anchor="start" textLength="43.4" lengthAdjust="spacingAndGlyphs" transform="rotate(90 776.2 218.3)" fill="#2a2a2a" stroke="#2a2a2a" stroke-width="0.3" >OBJ:</text>
<text x="776.2" y="271.7" font-size="20.6" text-anchor="start" textLength="193.1" lengthAdjust="spacingAndGlyphs" transform="rotate(90 776.2 271.7)" fill="#2a2a2a" stroke="#2a2a2a" stroke-width="0.3" >obj_ripple_Torque_</text>
</g>
</g>
</svg>
</body></html>
